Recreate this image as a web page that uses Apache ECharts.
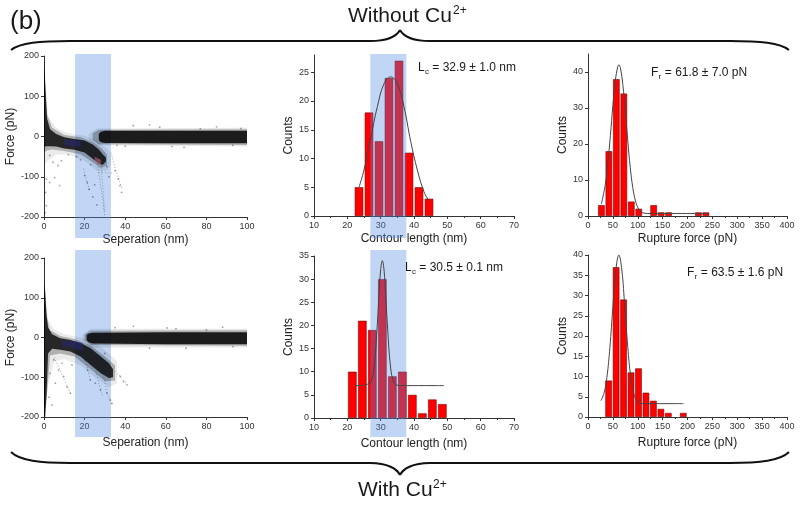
<!DOCTYPE html>
<html>
<head>
<meta charset="utf-8">
<title>Without / With Cu2+</title>
<script src="https://cdn.jsdelivr.net/npm/echarts@6/dist/echarts.min.js"></script>
<style>
  html, body { margin: 0; padding: 0; background: #fff; }
  #main { width: 800px; height: 509px; }
</style>
</head>
<body>
<div id="main"></div>
<script>
// contour length histograms (bin centre / counts)
var lcBins1 = [23.5, 26.5, 29.5, 32.5, 35.5, 38.5, 41.5, 44.5];
var lcCounts1 = [5, 18, 13, 24, 27, 11, 5, 3];
var lcBins2 = [21.5, 24.5, 27.5, 30.5, 33.5, 36.5, 39.5, 42.5, 45.5, 48.5];
var lcCounts2 = [10, 21, 19, 30, 9, 10, 5, 1, 4, 3];
// rupture force histograms
var frBins1 = [27, 42, 57, 72, 87, 102, 132, 147, 162, 222, 237];
var frCounts1 = [3, 18, 38, 34, 4, 2, 3, 1, 1, 1, 1];
var frBins2 = [41.5, 56.5, 71.5, 86.5, 101.5, 116.5, 131.5, 146.5, 161.5, 191.5];
var frCounts2 = [9, 37, 29, 11, 12, 6, 4, 2, 1, 1];

// fitted curves
var lcFit1 = [[23.5, 5], [25, 8], [27, 13.5], [29, 19], [31, 23], [33, 24.2], [35, 23], [37, 19], [39, 13], [41, 8], [43, 4.2], [44.5, 2.6]];
var lcFit2 = [[22, 7], [25, 7.05], [26, 7.3], [27, 7.6], [28, 10.8], [29, 20.3], [29.5, 26.7], [30, 32], [30.5, 34], [31, 32], [31.5, 26.7], [32, 20.3], [33, 10.8], [34, 7.6], [35, 7.1], [36, 7], [49, 7]];
var frFit1 = [[27, 3.4], [35, 8.9], [40, 14.8], [45, 22.4], [50, 30.7], [55, 37.7], [60, 41.6], [62, 42], [65, 41.2], [70, 36.5], [75, 29.1], [80, 20.8], [85, 13.4], [90, 7.9], [95, 4.4], [100, 2.4], [105, 1.4], [110, 0.9], [120, 0.7], [240, 0.7]];
var frFit2 = [[26, 4.05], [32, 5.8], [38, 9.8], [44, 17.2], [50, 27.1], [56, 36.3], [62, 40], [68, 36.3], [74, 27.1], [80, 17.2], [86, 9.8], [92, 5.8], [98, 4.05], [104, 3.5], [115, 3.3], [192, 3.3]];

// tick values
var lcCountTicks1 = [0, 5, 10, 15, 20, 25];
var frCountTicks1 = [0, 10, 20, 30, 40];

// highlighted ranges
var bandSep = [15.3, 33];
var bandLc = [26.9, 37.7];

// force-separation clouds: [x, lower, upper]
var approachDense1 = [[0, -25, 185], [0.7, -25, 120], [1.5, -24, 45], [3, -24, 18], [6, -25, 6], [10, -30, -2], [15, -33, -6], [20, -40, -10], [24, -55, -20], [27, -68, -32], [29, -70, -45], [30.5, -62, -52]];
var approachMid1 = [[0, -40, 190], [1.5, -35, 55], [4, -32, 22], [10, -36, 4], [18, -44, -2], [24, -64, -14], [28, -78, -28], [31, -72, -45]];
var approachHalo1 = [[0, -70, 195], [2, -60, 50], [6, -45, 22], [12, -45, 8], [20, -60, 2], [26, -85, -10], [31, -85, -30], [33, -70, -45]];
var baseDense1 = [[27, -9, 7], [28, -14, 12], [30, -16, 14], [60, -17, 14], [100, -17, 14]];
var baseMid1 = [[24, -8, 8], [27, -19, 17], [100, -21, 18]];
var baseHalo1 = [[22, -8, 6], [26, -22, 20], [100, -25, 22]];
var blueTint1 = [[10, -22, -8], [14, -24, -8], [18, -26, -12]];
var pinkTint1 = [[25, -62, -50], [28, -72, -58]];

var approachDense2 = [[0, -200, 135], [0.6, -200, 115], [1.2, -150, 60], [2, -40, 25], [4, -28, 8], [8, -31, -2], [13, -35, -6], [18, -48, -14], [23, -69, -27], [28, -90, -48], [32, -102, -65], [34, -100, -80]];
var approachMid2 = [[0, -200, 142], [1.5, -140, 50], [3, -45, 18], [8, -40, 4], [15, -48, -4], [23, -80, -20], [30, -110, -48], [35, -108, -70]];
var approachHalo2 = [[0, -200, 150], [2, -120, 45], [5, -60, 20], [10, -55, 8], [18, -70, 0], [25, -100, -12], [32, -125, -40], [36, -115, -60]];
var baseDense2 = [[21, -6, 6], [22, -12, 10], [24, -15, 12], [60, -17, 13], [100, -17, 13]];
var baseMid2 = [[20, -7, 8], [23, -19, 17], [100, -21, 18]];
var baseHalo2 = [[19, -8, 6], [23, -25, 22], [100, -25, 22]];
var blueTint2 = [[9, -22, -8], [14, -26, -8], [19, -34, -14]];

// loose points and rupture trails
var sepDots1 = [[2.8, -47], [4.4, -64], [6.9, -72], [8.6, -60], [1.2, -106], [0.8, -139], [1.2, -172], [0.5, -189], [2.8, -114], [5.3, -102], [7.7, -122],
  [44, 27], [57, 23], [77, 19], [93, -22], [69, -27], [36, -22], [52, 29], [63, -25], [85, 24], [40, -24], [97, 20],
  [35, -85], [36.6, -106], [37.4, -122], [38.2, -139], [20, -97], [21.3, -114], [22.2, -131],
  [12, -45], [16, -50], [18, -58], [23, -70], [31, -75], [32, -100], [25, -120], [24, -150], [26, -170]];
var sepDots2 = [[4.8, -56], [7.2, -82], [9.7, -98], [11.3, -124], [13, -140], [5.6, -115], [8.9, -65], [13.8, -69], [3, -90], [2.5, -150], [4, -170],
  [20.4, -56], [21.5, -82], [22.8, -107], [25.3, -115], [27.8, -132], [31, -140], [32.7, -157], [33.5, -166], [37.6, -98], [39.2, -111], [40.9, -119],
  [44, 28], [60.6, 24], [80, 19], [93, -23], [70, -27], [52, -27], [35, 25], [88, 26], [65, 22], [30, -40]];
var trails1 = [
  [[26, -60], [27.5, -110], [29, -160], [30, -200]],
  [[28, -62], [28.6, -105], [29.3, -150], [29.8, -185]],
  [[19.5, -80], [21, -110], [22.5, -135]],
  [[33, -40], [35, -78], [37, -108], [38.5, -132]],
  [[27, -89], [34, -91]]
];
var trails2 = [
  [[20, -45], [21.5, -82], [23, -110]],
  [[25, -70], [27.8, -132], [29, -150]],
  [[29, -85], [31, -140], [33.5, -170]],
  [[35, -85], [38, -100], [41, -118]],
  [[5, -50], [9, -95], [13, -140]]
];

var SANS = '"Liberation Sans", Arial, sans-serif';
var NARROW = '"Liberation Sans Narrow", "Liberation Sans", Arial, sans-serif';
var BAND = 'rgba(84,140,224,0.36)';

var chart = echarts.init(document.getElementById('main'));

function pairs(xs, ys) {
    return xs.map(function (x, i) { return [x, ys[i]]; });
}

function axis(extra) {
    var a = {
        nameLocation: 'middle',
        nameTextStyle: { fontSize: 12, color: '#222', fontFamily: SANS },
        axisLine: { show: true, onZero: false, lineStyle: { color: '#333', width: 1 } },
        axisTick: { show: true, length: 3, lineStyle: { color: '#333' } },
        axisLabel: { fontSize: 9, color: '#333', fontFamily: NARROW, margin: 5 },
        splitLine: { show: false }
    };
    for (var k in extra) a[k] = extra[k];
    return a;
}

function cloud(idx, pts, color) {
    return {
        type: 'custom', xAxisIndex: idx, yAxisIndex: idx, silent: true, z: 2,
        data: pts,
        renderItem: function (params, api) {
            if (params.dataIndex !== 0) return;
            var top = [], bot = [];
            for (var i = 0; i < pts.length; i++) {
                top.push(api.coord([pts[i][0], pts[i][2]]));
                bot.unshift(api.coord([pts[i][0], pts[i][1]]));
            }
            return { type: 'polygon', shape: { points: top.concat(bot) }, style: { fill: color } };
        }
    };
}

function bars(idx, xs, ys, w) {
    return {
        type: 'bar', xAxisIndex: idx, yAxisIndex: idx, z: 2, barWidth: w,
        data: pairs(xs, ys),
        itemStyle: { color: '#ff0000', borderColor: '#7a0000', borderWidth: 0.6 }
    };
}

function fit(idx, pts) {
    return {
        type: 'line', xAxisIndex: idx, yAxisIndex: idx, z: 5, smooth: 0.4,
        symbol: 'none', data: pts, silent: true,
        lineStyle: { color: '#444', width: 1 }
    };
}

function trail(idx, pts) {
    return {
        type: 'line', xAxisIndex: idx, yAxisIndex: idx, z: 3, symbol: 'none',
        data: pts, silent: true,
        lineStyle: { color: 'rgba(60,60,80,0.45)', width: 1, type: [1, 2] }
    };
}

function dots(idx, pts) {
    return {
        type: 'scatter', xAxisIndex: idx, yAxisIndex: idx, z: 3, silent: true,
        symbolSize: 1.8, data: pts, itemStyle: { color: 'rgba(0,0,0,0.45)' }
    };
}

var grids = [
    { left: 44, top: 56, width: 203, height: 161 },
    { left: 314, top: 55, width: 200, height: 161 },
    { left: 588, top: 54, width: 199, height: 162 },
    { left: 44, top: 258, width: 203, height: 159 },
    { left: 314, top: 256, width: 200, height: 162 },
    { left: 588, top: 255, width: 199, height: 162 }
];

var minor = { show: true, splitNumber: 2, length: 2, lineStyle: { color: '#333' } };
var xAxes = [
    axis({ gridIndex: 0, type: 'value', min: 0, max: 100, interval: 20, name: 'Seperation (nm)', nameGap: 17 }),
    axis({ gridIndex: 1, type: 'value', min: 10, max: 70, interval: 10, name: 'Contour length (nm)', nameGap: 17, minorTick: minor }),
    axis({ gridIndex: 2, type: 'value', min: 0, max: 400, interval: 50, name: 'Rupture force (pN)', nameGap: 17, minorTick: minor }),
    axis({ gridIndex: 3, type: 'value', min: 0, max: 100, interval: 20, name: 'Seperation (nm)', nameGap: 20 }),
    axis({ gridIndex: 4, type: 'value', min: 10, max: 70, interval: 10, name: 'Contour length (nm)', nameGap: 20, minorTick: minor }),
    axis({ gridIndex: 5, type: 'value', min: 0, max: 400, interval: 50, name: 'Rupture force (pN)', nameGap: 20, minorTick: minor })
];
var yAxes = [
    axis({ gridIndex: 0, type: 'value', min: -200, max: 200, interval: 100, name: 'Force (pN)', nameGap: 20 }),
    axis({ gridIndex: 1, type: 'value', min: 0, max: 28, name: 'Counts', nameGap: 18,
        axisTick: { show: true, length: 3, customValues: lcCountTicks1, lineStyle: { color: '#333' } },
        axisLabel: { fontSize: 9, color: '#333', fontFamily: NARROW, margin: 5, customValues: lcCountTicks1 } }),
    axis({ gridIndex: 2, type: 'value', min: 0, max: 45, name: 'Counts', nameGap: 19,
        axisTick: { show: true, length: 3, customValues: frCountTicks1, lineStyle: { color: '#333' } },
        axisLabel: { fontSize: 9, color: '#333', fontFamily: NARROW, margin: 5, customValues: frCountTicks1 } }),
    axis({ gridIndex: 3, type: 'value', min: -200, max: 200, interval: 100, name: 'Force (pN)', nameGap: 20 }),
    axis({ gridIndex: 4, type: 'value', min: 0, max: 35, interval: 5, name: 'Counts', nameGap: 18 }),
    axis({ gridIndex: 5, type: 'value', min: 0, max: 40, interval: 5, name: 'Counts', nameGap: 19 })
];

var series = [
    cloud(0, approachHalo1, 'rgba(0,0,0,0.08)'),
    cloud(0, baseHalo1, 'rgba(0,0,0,0.09)'),
    cloud(0, approachMid1, 'rgba(0,0,0,0.25)'),
    cloud(0, baseMid1, 'rgba(0,0,0,0.25)'),
    cloud(0, approachDense1, 'rgba(0,0,0,0.78)'),
    cloud(0, baseDense1, 'rgba(0,0,0,0.84)'),
    cloud(0, blueTint1, 'rgba(40,40,140,0.45)'),
    cloud(0, pinkTint1, 'rgba(220,110,130,0.5)'),
    dots(0, sepDots1),
    cloud(3, approachHalo2, 'rgba(0,0,0,0.08)'),
    cloud(3, baseHalo2, 'rgba(0,0,0,0.09)'),
    cloud(3, approachMid2, 'rgba(0,0,0,0.25)'),
    cloud(3, baseMid2, 'rgba(0,0,0,0.25)'),
    cloud(3, approachDense2, 'rgba(0,0,0,0.78)'),
    cloud(3, baseDense2, 'rgba(0,0,0,0.84)'),
    cloud(3, blueTint2, 'rgba(40,40,140,0.45)'),
    dots(3, sepDots2),
    bars(1, lcBins1, lcCounts1, '85%'),
    bars(2, frBins1, frCounts1, '88%'),
    bars(4, lcBins2, lcCounts2, '85%'),
    bars(5, frBins2, frCounts2, '88%'),
    fit(1, lcFit1),
    fit(2, frFit1),
    fit(4, lcFit2),
    fit(5, frFit2)
];
trails1.forEach(function (t) { series.push(trail(0, t)); });
trails2.forEach(function (t) { series.push(trail(3, t)); });

chart.setOption({
    animation: false,
    backgroundColor: '#fff',
    grid: grids,
    xAxis: xAxes,
    yAxis: yAxes,
    series: series
});

function band(idx, range, top, bottom, z) {
    var a = chart.convertToPixel({ xAxisIndex: idx }, range[0]);
    var b = chart.convertToPixel({ xAxisIndex: idx }, range[1]);
    return { type: 'rect', z: z, silent: true, shape: { x: a, y: top, width: b - a, height: bottom - top }, style: { fill: BAND } };
}

function txt(x, y, s, size, align) {
    return { type: 'text', x: x, y: y, z: 10, silent: true,
        style: { text: s, fontSize: size, fontFamily: SANS, fill: '#1a1a1a', align: align || 'left', verticalAlign: 'middle' } };
}

var braceStyle = { stroke: '#111', lineWidth: 2, fill: null };
function curve(x1, y1, cx1, cy1, cx2, cy2, x2, y2) {
    return { type: 'bezierCurve', z: 10, silent: true, style: braceStyle,
        shape: { x1: x1, y1: y1, cpx1: cx1, cpy1: cy1, cpx2: cx2, cpy2: cy2, x2: x2, y2: y2 } };
}
function seg(x1, y1, x2, y2) {
    return { type: 'line', z: 10, silent: true, style: braceStyle, shape: { x1: x1, y1: y1, x2: x2, y2: y2 } };
}
// curly braces: ends, flat runs, middle point
function brace(yEnd, yFlat, yTip) {
    var d = yFlat - yEnd;
    return [
        curve(11, yEnd, 20, yFlat - d * 0.2, 40, yFlat, 70, yFlat),
        seg(70, yFlat, 370, yFlat),
        curve(370, yFlat, 388, yFlat, 397, (yFlat + yTip) / 2, 400, yTip),
        curve(400, yTip, 403, (yFlat + yTip) / 2, 412, yFlat, 430, yFlat),
        seg(430, yFlat, 730, yFlat),
        curve(730, yFlat, 760, yFlat, 780, yFlat - d * 0.2, 789, yEnd)
    ];
}

chart.setOption({
    graphic: [
        band(0, bandSep, 54, 238, 1),
        band(3, bandSep, 250, 437, 1),
        band(1, bandLc, 54, 238, 3),
        band(4, bandLc, 250, 437, 3),
        txt(10, 22, '(b)', 26),
        txt(348, 16, 'Without Cu', 21),
        txt(453, 11, '2+', 12),
        txt(358, 490, 'With Cu', 21),
        txt(433, 485, '2+', 12),
        txt(418, 68, 'L', 12), txt(425, 72, 'c', 8), txt(429, 68, ' = 32.9 \u00b1 1.0 nm', 12),
        txt(651, 73, 'F', 12), txt(658.5, 77, 'r', 8), txt(661.5, 73, ' = 61.8 \u00b1 7.0 pN', 12),
        txt(405, 268, 'L', 12), txt(412, 272, 'c', 8), txt(416, 268, ' = 30.5 \u00b1 0.1 nm', 12),
        txt(687, 273, 'F', 12), txt(694.5, 277, 'r', 8), txt(697.5, 273, ' = 63.5 \u00b1 1.6 pN', 12)
    ].concat(brace(50, 41, 30), brace(452, 463, 475))
});
</script>
</body>
</html>
